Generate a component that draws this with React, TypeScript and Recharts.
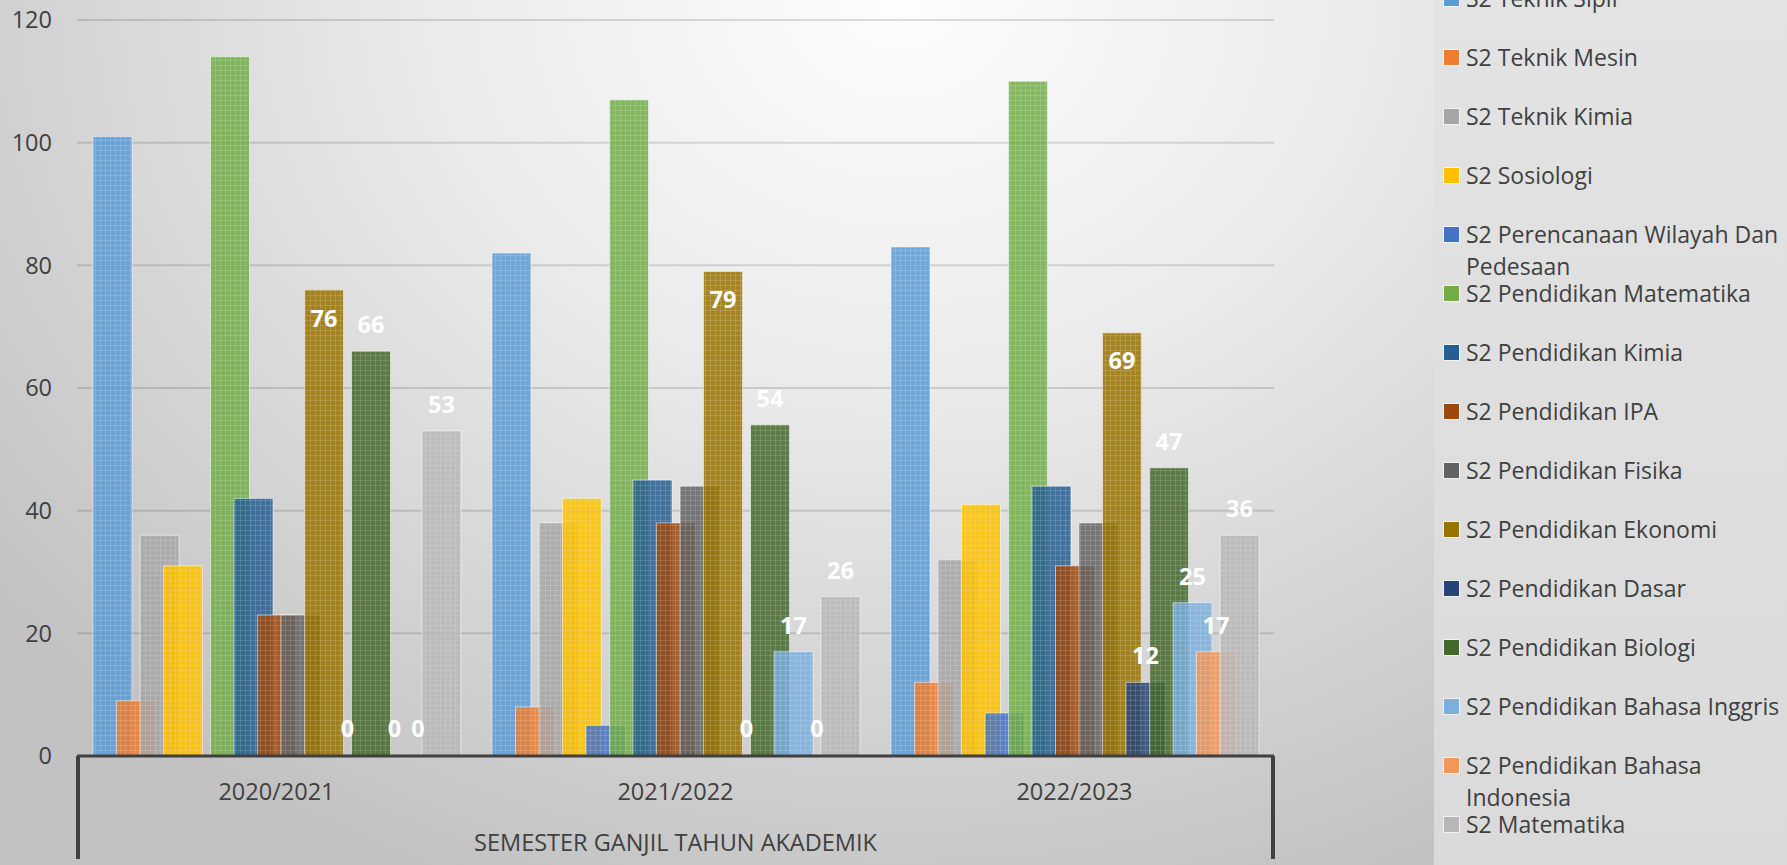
import React from "react";
import { BarChart, Bar, XAxis, YAxis, CartesianGrid, LabelList, Label } from "recharts";

const years = ["2020/2021", "2021/2022", "2022/2023"];

const programs = [
  "S2 Teknik Sipil",
  "S2 Teknik Mesin",
  "S2 Teknik Kimia",
  "S2 Sosiologi",
  "S2 Perencanaan Wilayah Dan Pedesaan",
  "S2 Pendidikan Matematika",
  "S2 Pendidikan Kimia",
  "S2 Pendidikan IPA",
  "S2 Pendidikan Fisika",
  "S2 Pendidikan Ekonomi",
  "S2 Pendidikan Dasar",
  "S2 Pendidikan Biologi",
  "S2 Pendidikan Bahasa Inggris",
  "S2 Pendidikan Bahasa Indonesia",
  "S2 Matematika",
];

const teknikSipil = [101, 82, 83];
const teknikMesin = [9, 8, 12];
const teknikKimia = [36, 38, 32];
const sosiologi = [31, 42, 41];
const perencanaan = [0, 5, 7];
const pendMatematika = [114, 107, 110];
const pendKimia = [42, 45, 44];
const pendIpa = [23, 38, 31];
const pendFisika = [23, 44, 38];
const pendEkonomi = [76, 79, 69];
const pendDasar = [0, 0, 12];
const pendBiologi = [66, 54, 47];
const pendInggris = [0, 17, 25];
const pendIndonesia = [0, 0, 17];
const matematika = [53, 26, 36];

const seriesValues = [
  teknikSipil, teknikMesin, teknikKimia, sosiologi, perencanaan,
  pendMatematika, pendKimia, pendIpa, pendFisika, pendEkonomi,
  pendDasar, pendBiologi, pendInggris, pendIndonesia, matematika,
];

const yTicks = [0, 20, 40, 60, 80, 100, 120];

const colors = [
  "#5b9bd5", "#ed7d31", "#a5a5a5", "#ffc000", "#4472c4",
  "#70ad47", "#255e91", "#9e480e", "#636363", "#997300",
  "#264478", "#43682b", "#7cafdd", "#f1975a", "#b7b7b7",
];

// which series carry value labels, and where
const labelPos: Record<number, "top" | "insideTop"> = {
  9: "insideTop",
  10: "top",
  11: "top",
  12: "top",
  13: "top",
  14: "top",
};

const rows = years.map((year, i) => {
  const row: Record<string, string | number> = { year };
  seriesValues.forEach((vals, s) => {
    row["s" + s] = vals[i];
  });
  return row;
});

const FONT = "'Open Sans', 'Noto Sans', sans-serif";
const TEXT = "#404040";
const W = 1787;
const H = 865;
const MARGIN = { top: 20, right: 513, left: 0, bottom: 0 };

export default function App() {
  return (
    <div
      style={{
        position: "absolute",
        left: 0,
        top: 0,
        width: W,
        height: H,
        overflow: "hidden",
        fontFamily: FONT,
        background:
          "radial-gradient(ellipse 1150px 950px at 900px 0px, #fdfdfd 0%, #ebebeb 40%, #d3d3d3 75%, #c2c2c2 100%)",
      }}
    >
      <div
        style={{
          position: "absolute",
          left: 1434,
          top: 0,
          width: 353,
          height: H,
          background: "linear-gradient(180deg, #e3e3e3 0%, #dadada 100%)",
        }}
      />

      {/* bars */}
      <div style={{ position: "absolute", left: 0, top: 0 }}>
        <BarChart
          width={W}
          height={H}
          data={rows}
          margin={MARGIN}
          barGap={-15.5}
          barSize={39}
          style={{ fontFamily: FONT }}
        >
          <defs>
            {colors.map((c, s) => (
              <pattern key={s} id={"pat" + s} width={5} height={5} patternUnits="userSpaceOnUse">
                <rect width={5} height={5} fill={c} />
                <rect width={1} height={5} fill="#ffffff" fillOpacity={0.14} />
                <rect width={5} height={1} fill="#ffffff" fillOpacity={0.14} />
              </pattern>
            ))}
          </defs>
          <CartesianGrid vertical={false} stroke="#000" strokeOpacity={0.13} strokeWidth={2} />
          <XAxis
            dataKey="year"
            height={109}
            tickLine={false}
            tickSize={0}
            tickMargin={27}
            axisLine={{ stroke: TEXT, strokeWidth: 3 }}
            tick={{ fill: TEXT, fontSize: 23.5 }}
          >
            <Label
              value="SEMESTER GANJIL TAHUN AKADEMIK"
              position="insideBottom"
              offset={14}
              style={{ fill: TEXT, fontSize: 23.5 }}
            />
          </XAxis>
          <YAxis
            width={77}
            domain={[0, 120]}
            ticks={yTicks}
            axisLine={false}
            tickLine={false}
            tickSize={0}
            tickMargin={25}
            tick={{ fill: TEXT, fontSize: 23.5 }}
          />
          {programs.map((name, s) => (
            <Bar
              key={name}
              dataKey={"s" + s}
              name={name}
              fill={`url(#pat${s})`}
              fillOpacity={0.85}
              stroke="#ffffff"
              strokeOpacity={0.5}
              strokeWidth={1}
              isAnimationActive={false}
            />
          ))}
        </BarChart>
      </div>

      {/* value labels, drawn over every bar like the original */}
      <div style={{ position: "absolute", left: 0, top: 0 }}>
        <BarChart
          width={W}
          height={H}
          data={rows}
          margin={MARGIN}
          barGap={-15.5}
          barSize={39}
          style={{ fontFamily: FONT }}
        >
          <XAxis dataKey="year" height={109} tick={false} tickLine={false} axisLine={false} />
          <YAxis width={77} domain={[0, 120]} ticks={yTicks} tick={false} tickLine={false} axisLine={false} />
          {programs.map((name, s) => (
            <Bar
              key={name}
              dataKey={"s" + s}
              fill="transparent"
              minPointSize={1}
              isAnimationActive={false}
            >
              {labelPos[s] && (
                <LabelList
                  dataKey={"s" + s}
                  position={labelPos[s]}
                  offset={labelPos[s] === "insideTop" ? 20 : 18}
                  style={{ fill: "#ffffff", fontWeight: 700, fontSize: 23.5 }}
                />
              )}
            </Bar>
          ))}
        </BarChart>
      </div>

      {/* multi-level category box sides */}
      <div style={{ position: "absolute", left: 76, top: 756, width: 4, height: 103, background: TEXT }} />
      <div style={{ position: "absolute", left: 1271, top: 756, width: 4, height: 103, background: TEXT }} />

      {/* legend */}
      {programs.map((name, s) => (
        <div
          key={name}
          style={{
            position: "absolute",
            left: 1444,
            top: -18 + 59 * s,
            width: 343,
            display: "flex",
            alignItems: "flex-start",
            fontSize: 23,
            lineHeight: "32px",
            color: TEXT,
          }}
        >
          <span
            style={{
              display: "inline-block",
              width: 15,
              height: 15,
              marginTop: 9,
              marginRight: 7,
              flex: "0 0 15px",
              background: colors[s],
              outline: "1px solid rgba(255,255,255,0.6)",
            }}
          />
          <span style={{ width: 321 }}>{name}</span>
        </div>
      ))}
    </div>
  );
}
